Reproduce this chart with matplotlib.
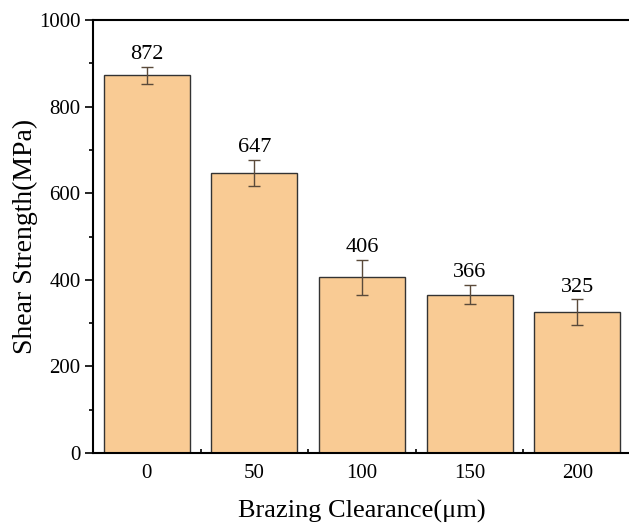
import matplotlib
matplotlib.use("Agg")
import matplotlib.pyplot as plt
from matplotlib.ticker import MultipleLocator

clearance = [0, 50, 100, 150, 200]
strength = [872, 647, 406, 366, 325]
errors = [20, 30, 40, 23, 30]
xtick_labels = ["0", "50", "100", "150", "200"]

plt.rcParams['font.family'] = ['Liberation Serif', 'DejaVu Serif']

fig = plt.figure(figsize=(6.29, 5.25), dpi=100)
ax = fig.add_axes([93/629, 72/525, 538/629, 433/525])

ax.bar(clearance, strength, width=40, color='#F9CB94', edgecolor='#333333', linewidth=1.0, zorder=2)
ax.errorbar(clearance, strength, yerr=errors, fmt='none', ecolor='#5a4a3a', elinewidth=1.0,
            capsize=4, capthick=1.0, zorder=3)
for x, v, e in zip(clearance, strength, errors):
    ax.annotate(str(v), (x, v + e), xytext=(0, 2), textcoords='offset points',
                ha='center', va='bottom', fontsize=16)

ax.set_xlim(-25, 225)
ax.set_ylim(0, 1000)
ax.set_xticks(clearance)
ax.set_xticklabels(xtick_labels)
ax.xaxis.set_minor_locator(MultipleLocator(25))
ax.yaxis.set_major_locator(MultipleLocator(200))
ax.yaxis.set_minor_locator(MultipleLocator(100))
ax.tick_params(axis='x', which='major', direction='in', length=6, width=1.2, labelsize=15, pad=8)
ax.tick_params(axis='x', which='minor', direction='in', length=3, width=1.2)
ax.tick_params(axis='y', which='major', direction='out', length=6, width=1.2, labelsize=15, pad=3)
ax.tick_params(axis='y', which='minor', direction='out', length=3, width=1.2)
for s in ax.spines.values():
    s.set_linewidth(1.5)
ax.set_xlabel('Brazing Clearance(μm)', fontsize=19, labelpad=12)
ax.set_ylabel('Shear Strength(MPa)', fontsize=20, labelpad=1)

fig.savefig('out.png', dpi=100)
